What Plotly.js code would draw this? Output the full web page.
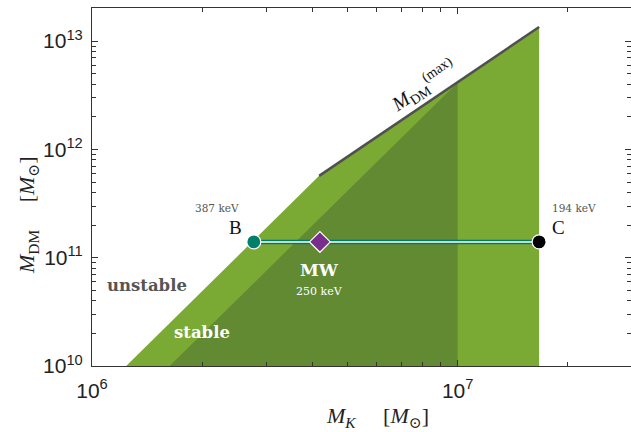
<!DOCTYPE html>
<html>
<head>
<meta charset="utf-8">
<script src="https://cdn.plot.ly/plotly-3.0.1.min.js"></script>
<style>html,body{margin:0;padding:0;background:#fff;}#chart{width:631px;height:432px;}</style>
</head>
<body>
<div id="chart"></div>
<script>
// ---- data ----
// outer stable region (light green)
const stableX = [1.24e6, 4.18e6, 1.67e7, 1.67e7];
const stableY = [1e10, 5.7e11, 1.35e13, 1e10];
// inner region (dark green)
const innerX = [1.63e6, 1e7, 1e7];
const innerY = [1e10, 4.16e12, 1e10];
// M_DM^(max) line
const maxX = [4.18e6, 1.67e7];
const maxY = [5.7e11, 1.35e13];
// B - MW - C points
const pointNames = ["B", "MW", "C"];
const pointX = [2.77e6, 4.2e6, 1.67e7];
const pointY = [1.4e11, 1.4e11, 1.4e11];
const pointKeV = ["387 keV", "250 keV", "194 keV"];
// ticks
const yTickVals = [1e10, 1e11, 1e12, 1e13];
const yTickText = ["10<sup>10</sup>", "10<sup>11</sup>", "10<sup>12</sup>", "10<sup>13</sup>"];
const xTickVals = [1e6, 1e7];
const xTickText = ["10<sup>6</sup>", "10<sup>7</sup>"];
const yMinor = [2e10,3e10,4e10,5e10,6e10,7e10,8e10,9e10,2e11,3e11,4e11,5e11,6e11,7e11,8e11,9e11,2e12,3e12,4e12,5e12,6e12,7e12,8e12,9e12,2e13];
const xMinor = [2e6,3e6,4e6,5e6,6e6,7e6,8e6,9e6,2e7];

const serif = "Liberation Serif, DejaVu Serif, serif";
const wideSerif = "DejaVu Serif, serif";
const sans = "Liberation Sans, Arial, sans-serif";
const lightGreen = "#7aaa34";
const darkGreen = "#628a32";

const traces = [
  {x: stableX, y: stableY, type: "scatter", mode: "lines", fill: "toself",
   fillcolor: lightGreen, line: {width: 0, color: lightGreen}, hoverinfo: "skip"},
  {x: innerX, y: innerY, type: "scatter", mode: "lines", fill: "toself",
   fillcolor: darkGreen, line: {width: 0, color: darkGreen}, hoverinfo: "skip"},
  {x: maxX, y: maxY, type: "scatter", mode: "lines",
   line: {color: "#505050", width: 2.5}},
  {x: [pointX[0], pointX[2]], y: [pointY[0], pointY[2]], type: "scatter", mode: "lines",
   opacity: 1, line: {color: "#007a62", width: 4.5}},
  {x: [pointX[0], pointX[2]], y: [pointY[0], pointY[2]], type: "scatter", mode: "lines",
   opacity: 1, line: {color: "#ffffff", width: 1.5}},
  {x: pointX, y: pointY, type: "scatter", mode: "markers", opacity: 1,
   marker: {symbol: ["circle", "diamond", "circle"], color: ["#00806a", "#7a2e8c", "#000000"],
            opacity: 1, size: [14, 16, 14], line: {color: "#ffffff", width: 1.2}}}
];

const ann = [
  {x: Math.log10(pointX[0]), y: Math.log10(pointY[0]), text: pointNames[0], xshift: -18, yshift: 14,
   font: {family: serif, size: 19, color: "#111"}},
  {x: Math.log10(pointX[2]), y: Math.log10(pointY[2]), text: pointNames[2], xshift: 19, yshift: 14,
   font: {family: serif, size: 19, color: "#111"}},
  {x: Math.log10(pointX[0]), y: Math.log10(pointY[0]), text: pointKeV[0], xshift: -37, yshift: 34,
   font: {family: wideSerif, size: 10.5, color: "#555"}},
  {x: Math.log10(pointX[2]), y: Math.log10(pointY[2]), text: pointKeV[2], xshift: 35, yshift: 34,
   font: {family: wideSerif, size: 10.5, color: "#555"}},
  {x: Math.log10(pointX[1]), y: Math.log10(pointY[1]), text: "<b>" + pointNames[1] + "</b>", xshift: 0, yshift: -28,
   font: {family: wideSerif, size: 17, color: "#ffffff"}},
  {x: Math.log10(pointX[1]), y: Math.log10(pointY[1]), text: pointKeV[1], xshift: 0, yshift: -50,
   font: {family: wideSerif, size: 11, color: "#ffffff"}},
  {xref: "paper", yref: "paper", x: (147 - 92) / 539, y: (366 - 285) / 358, text: "<b>unstable</b>",
   font: {family: wideSerif, size: 16.5, color: "#555"}},
  {xref: "paper", yref: "paper", x: (202 - 92) / 539, y: (366 - 332) / 358, text: "<b>stable</b>",
   font: {family: wideSerif, size: 16.5, color: "#ffffff"}},
  {xref: "paper", yref: "paper", x: (424 - 92) / 539, y: (366 - 86) / 358, textangle: -34,
   text: "<i>M</i><sub>DM</sub><sup>(max)</sup>", font: {family: serif, size: 20, color: "#111"}},
  {xref: "paper", yref: "paper", x: (28 - 92) / 539, y: (366 - 215) / 358, textangle: -90,
   text: "<i>M</i><sub>DM</sub>\u00a0\u00a0\u00a0\u00a0\u00a0[<i>M</i><sub>\u2299</sub>]",
   font: {family: serif, size: 22, color: "#222"}},
  {xref: "paper", yref: "paper", x: (377 - 92) / 539, y: (366 - 417) / 358,
   text: "<i>M</i><sub><i>K</i></sub>\u00a0\u00a0\u00a0\u00a0\u00a0[<i>M</i><sub>\u2299</sub>]",
   font: {family: serif, size: 22, color: "#222"}}
].map(a => Object.assign({xref: "x", yref: "y", showarrow: false, xanchor: "center", yanchor: "middle"}, a));

const axisCommon = {
  type: "log", showgrid: false, zeroline: false, showline: true, linecolor: "#333", linewidth: 1,
  mirror: "ticks", ticks: "inside", ticklen: 6, tickcolor: "#333", tickwidth: 1,
  tickfont: {family: sans, size: 21, color: "#222"}, tickmode: "array"
};

const layout = {
  width: 631, height: 432,
  margin: {l: 92, r: 0, t: 8, b: 66},
  paper_bgcolor: "#ffffff", plot_bgcolor: "#ffffff",
  showlegend: false,
  xaxis: Object.assign({}, axisCommon, {
    range: [6, 7.474], tickvals: xTickVals, ticktext: xTickText, ticklabelstandoff: 6,
    minor: {tickvals: xMinor, ticks: "inside", ticklen: 4, tickcolor: "#333", showgrid: false}
  }),
  yaxis: Object.assign({}, axisCommon, {
    range: [10, 13.306], tickvals: yTickVals, ticktext: yTickText, ticklabelstandoff: 4,
    minor: {tickvals: yMinor, ticks: "inside", ticklen: 4, tickcolor: "#333", showgrid: false}
  }),
  annotations: ann
};

Plotly.newPlot("chart", traces, layout, {displayModeBar: false, staticPlot: true});
</script>
</body>
</html>
